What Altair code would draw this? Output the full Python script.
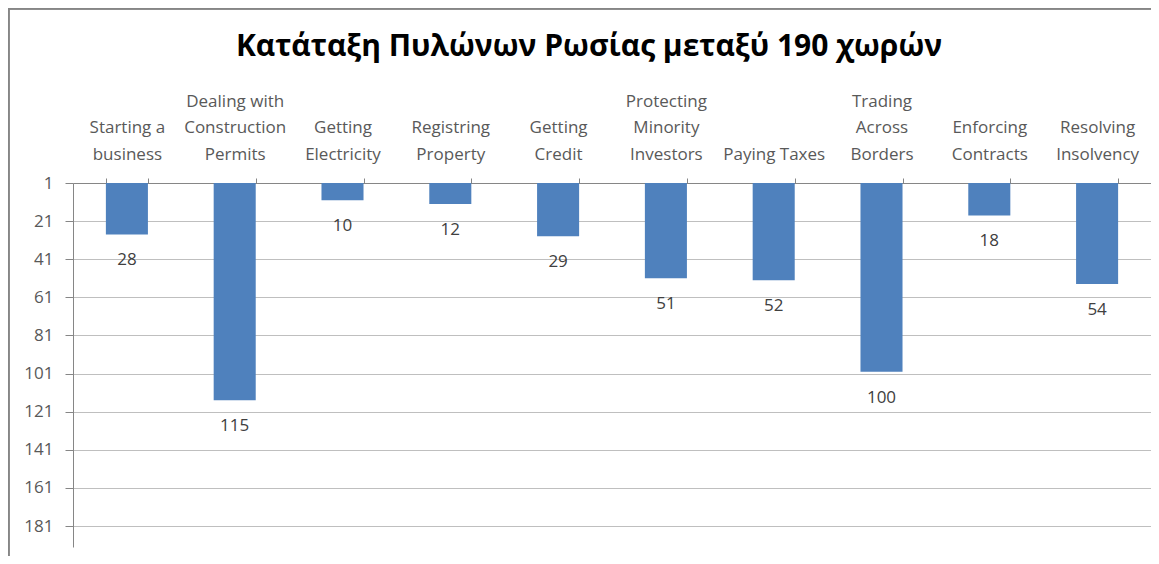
import altair as alt
import pandas as pd

BL = "\u2800"  # blank (non-whitespace) filler line
categories = [
    BL + "|Starting a|business",
    "Dealing with|Construction|Permits",
    BL + "|Getting|Electricity",
    BL + "|Registring|Property",
    BL + "|Getting|Credit",
    "Protecting|Minority|Investors",
    BL + "|" + BL + "|Paying Taxes",
    "Trading|Across|Borders",
    BL + "|Enforcing|Contracts",
    BL + "|Resolving|Insolvency",
]
ranks = [28, 115, 10, 12, 29, 51, 52, 100, 18, 54]
y_ticks = [1, 21, 41, 61, 81, 101, 121, 141, 161, 181]
title_text = "Κατάταξη Πυλώνων Ρωσίας μεταξύ 190 χωρών"

df = pd.DataFrame({"cat": categories, "rank": ranks})

FONT = "Open Sans"
W, H = 1078, 364

x_enc = alt.X(
    "cat:N",
    sort=None,
    title=None,
    scale=alt.Scale(paddingInner=0.61, paddingOuter=0.305),
    axis=alt.Axis(
        orient="top",
        labelExpr="split(datum.label, '|')",
        labelAngle=0,
        labelFont=FONT,
        labelFontSize=17,
        labelColor="#595959",
        labelLineHeight=26.5,
        labelPadding=68,
        tickBand="extent",
        tickSize=5,
        tickColor="#868686",
        domainColor="#868686",
        grid=False,
    ),
)

y_scale = alt.Scale(domain=[1, 192], reverse=True, nice=False, zero=False)

bars = alt.Chart(df).mark_bar(color="#4F81BD").encode(
    x=x_enc,
    y=alt.Y(
        "rank:Q",
        scale=y_scale,
        title=None,
        axis=alt.Axis(
            values=y_ticks,
            labelFont=FONT,
            labelFontSize=17,
            labelColor="#595959",
            labelPadding=12,
            tickSize=8,
            tickColor="#868686",
            domainColor="#868686",
            gridColor="#BFBFBF",
            gridWidth=1,
        ),
    ),
    y2=alt.datum(1),
)

labels = alt.Chart(df).mark_text(
    font=FONT, fontSize=17, color="#404040", baseline="middle", dy=26
).encode(
    x=alt.X("cat:N", sort=None),
    y=alt.Y("rank:Q", scale=y_scale),
    text=alt.Text("rank:Q"),
)

frame = alt.Chart(df).mark_rect(
    fill=None, stroke="#868686", strokeWidth=1.5
).encode(
    x=alt.value(-64.5), x2=alt.value(W + 40), y=alt.value(-174.5), y2=alt.value(H + 40)
)

chart = (
    alt.layer(frame, bars, labels)
    .properties(
        width=W,
        height=H,
        autosize=alt.AutoSizeParams(type="none"),
        padding={"left": 65, "top": 175, "right": 0, "bottom": 9},
        title=alt.TitleParams(
            title_text,
            font=FONT,
            fontSize=30,
            fontWeight="bold",
            color="#000000",
            anchor="middle",
            frame="group",
            baseline="alphabetic",
            dx=-23,
            offset=-78,
        ),
    )
    .configure_view(stroke=None)
)

chart.save("out.html", embed_options={"renderer": "svg", "actions": False})
